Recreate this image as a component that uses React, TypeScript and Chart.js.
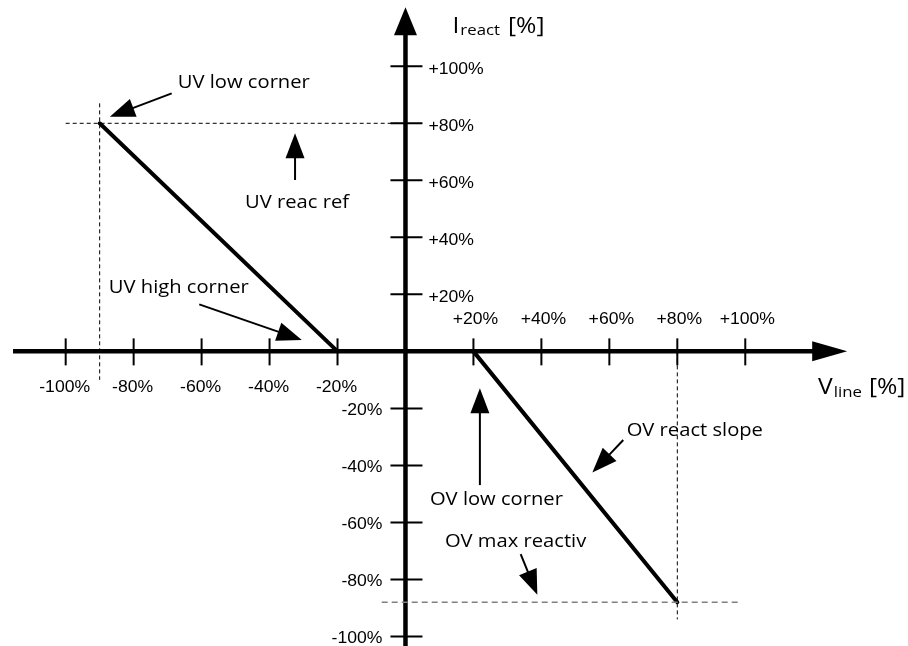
import React, { useEffect, useRef } from "react";
import { Chart, registerables } from "chart.js";

Chart.register(...registerables);

// ---- data ----
const X_TICKS = [-100, -80, -60, -40, -20, 20, 40, 60, 80, 100];
const X_TICK_LABELS = ["-100%", "-80%", "-60%", "-40%", "-20%", "+20%", "+40%", "+60%", "+80%", "+100%"];
const Y_TICKS = [100, 80, 60, 40, 20, -20, -40, -60, -80, -100];
const Y_TICK_LABELS = ["+100%", "+80%", "+60%", "+40%", "+20%", "-20%", "-40%", "-60%", "-80%", "-100%"];

const UV_CURVE_X = [-90, -20];
const UV_CURVE_Y = [80, 0];
const OV_CURVE_X = [20, 80];
const OV_CURVE_Y = [0, -88];

const UV_REF_GUIDE_X = [-100, 0];
const UV_REF_GUIDE_Y = [80, 80];
const UV_LOW_GUIDE_X = [-90, -90];
const UV_LOW_GUIDE_Y = [87, -10];
const OV_MAX_GUIDE_X = [-7, 98];
const OV_MAX_GUIDE_Y = [-88, -88];
const OV_CORNER_GUIDE_X = [80, 80];
const OV_CORNER_GUIDE_Y = [0, -94];

const NOTE_TEXTS = ["UV low corner", "UV reac ref", "UV high corner", "OV low corner", "OV react slope", "OV max reactiv"];
const NOTE_TEXT_X = [-67, -47.2, -87.3, 7.2, 65.1, 11.6];
const NOTE_TEXT_Y = [94.4, 52.4, 22.6, -51.8, -27.6, -66.4];
const ARROW_FROM_X = [-68.8, -32.5, -60.7, 21.9, 64.1, 33.9];
const ARROW_FROM_Y = [90.5, 60.1, 16.5, -46.9, -31.1, -71.1];
const ARROW_TO_X = [-87, -32.5, -30.5, 21.9, 55.0, 38.8];
const ARROW_TO_Y = [82.3, 76.5, 4.0, -12.9, -42.5, -85.4];

const X_AXIS_EXTENT = [-115.5, 130];
const Y_AXIS_EXTENT = [-104, 120.7];

const X_MIN = -119.33;
const X_MAX = 147.89;
const Y_MIN = -103.35;
const Y_MAX = 123.25;

const pts = (xs: number[], ys: number[]) => xs.map((x, i) => ({ x, y: ys[i] }));

function stretchText(ctx: CanvasRenderingContext2D, text: string, x: number, y: number, sx: number) {
  ctx.save();
  ctx.translate(x, y);
  ctx.scale(sx, 1);
  ctx.fillText(text, 0, 0);
  ctx.restore();
}

function drawArrow(ctx: CanvasRenderingContext2D, x1: number, y1: number, x2: number, y2: number, len: number, half: number, width: number) {
  const dx = x2 - x1;
  const dy = y2 - y1;
  const d = Math.hypot(dx, dy);
  const ux = dx / d;
  const uy = dy / d;
  const bx = x2 - ux * len;
  const by = y2 - uy * len;
  ctx.beginPath();
  ctx.lineWidth = width;
  ctx.moveTo(x1, y1);
  ctx.lineTo(bx + ux * 2, by + uy * 2);
  ctx.stroke();
  ctx.beginPath();
  ctx.moveTo(x2, y2);
  ctx.lineTo(bx - uy * half, by + ux * half);
  ctx.lineTo(bx + uy * half, by - ux * half);
  ctx.closePath();
  ctx.fill();
}

const diagramPlugin = {
  id: "diagram",
  beforeDatasetsDraw(chart: any) {
    const ctx: CanvasRenderingContext2D = chart.ctx;
    const xs = chart.scales.x;
    const ys = chart.scales.y;
    const x0 = xs.getPixelForValue(0);
    const y0 = ys.getPixelForValue(0);
    ctx.save();
    ctx.strokeStyle = "#000";
    ctx.fillStyle = "#000";
    ctx.setLineDash([]);
    // x axis
    const xa = xs.getPixelForValue(X_AXIS_EXTENT[0]);
    const xb = xs.getPixelForValue(X_AXIS_EXTENT[1]);
    drawArrow(ctx, xa, y0, xb, y0, 35, 10, 4.5);
    // y axis
    const ya = ys.getPixelForValue(Y_AXIS_EXTENT[0]);
    const yb = ys.getPixelForValue(Y_AXIS_EXTENT[1]);
    drawArrow(ctx, x0, ya, x0, yb, 28, 11.5, 4.5);
    // ticks
    ctx.lineWidth = 2;
    X_TICKS.forEach((v) => {
      const px = xs.getPixelForValue(v);
      ctx.beginPath();
      ctx.moveTo(px, y0 - 13);
      ctx.lineTo(px, y0 + 14);
      ctx.stroke();
    });
    Y_TICKS.forEach((v) => {
      const py = ys.getPixelForValue(v);
      ctx.beginPath();
      ctx.moveTo(x0 - 15, py);
      ctx.lineTo(x0 + 17, py);
      ctx.stroke();
    });
    // tick labels
    ctx.font = "16px 'Liberation Sans', Arial, sans-serif";
    ctx.textBaseline = "middle";
    ctx.textAlign = "center";
    X_TICKS.forEach((v, i) => {
      const px = xs.getPixelForValue(v);
      const py = v > 0 ? y0 - 32 : y0 + 36;
      stretchText(ctx, X_TICK_LABELS[i], px + (v > 0 ? 2 : -1), py, 1.1);
    });
    Y_TICKS.forEach((v, i) => {
      const py = ys.getPixelForValue(v);
      if (v > 0) {
        ctx.textAlign = "left";
        stretchText(ctx, Y_TICK_LABELS[i], x0 + 23, py + 3, 1.1);
      } else {
        ctx.textAlign = "right";
        stretchText(ctx, Y_TICK_LABELS[i], x0 - 23, py + 2, 1.1);
      }
    });
    ctx.restore();
  },
  afterDatasetsDraw(chart: any) {
    const ctx: CanvasRenderingContext2D = chart.ctx;
    const xs = chart.scales.x;
    const ys = chart.scales.y;
    const x0 = xs.getPixelForValue(0);
    const y0 = ys.getPixelForValue(0);
    ctx.save();
    ctx.strokeStyle = "#000";
    ctx.fillStyle = "#000";
    ctx.setLineDash([]);
    // annotation arrows
    NOTE_TEXTS.forEach((_, i) => {
      drawArrow(
        ctx,
        xs.getPixelForValue(ARROW_FROM_X[i]),
        ys.getPixelForValue(ARROW_FROM_Y[i]),
        xs.getPixelForValue(ARROW_TO_X[i]),
        ys.getPixelForValue(ARROW_TO_Y[i]),
        25,
        9.5,
        2
      );
    });
    // annotation texts
    ctx.font = "18px 'Open Sans', sans-serif";
    ctx.textAlign = "left";
    ctx.textBaseline = "middle";
    NOTE_TEXTS.forEach((t, i) => {
      stretchText(ctx, t, xs.getPixelForValue(NOTE_TEXT_X[i]), ys.getPixelForValue(NOTE_TEXT_Y[i]) + 1, 1.12);
    });
    // axis titles
    ctx.textBaseline = "alphabetic";
    const big = "22px 'Open Sans', sans-serif";
    const small = "15px 'Open Sans', sans-serif";
    // I_react [%]
    let tx = x0 + 47;
    const ty = 32.5;
    ctx.font = big;
    stretchText(ctx, "I", tx, ty, 1.12);
    tx += ctx.measureText("I").width * 1.12 + 1;
    ctx.font = small;
    stretchText(ctx, "react", tx, ty + 2, 1.12);
    tx += ctx.measureText("react").width * 1.12 + 8;
    ctx.font = big;
    stretchText(ctx, "[%]", tx, ty, 1.12);
    // V_line [%]
    let vx = x0 + 412.5;
    const vy = y0 + 43;
    ctx.font = big;
    stretchText(ctx, "V", vx, vy, 1.12);
    vx += ctx.measureText("V").width * 1.12 + 1;
    ctx.font = small;
    stretchText(ctx, "line", vx, vy + 3, 1.12);
    vx += ctx.measureText("line").width * 1.12 + 7;
    ctx.font = big;
    stretchText(ctx, "[%]", vx, vy, 1.12);
    ctx.restore();
  },
};

export default function App() {
  const ref = useRef<HTMLCanvasElement | null>(null);
  useEffect(() => {
    if (!ref.current) return;
    const guide = (xs: number[], ys: number[], color: string, dash: number[], w: number) => ({
      data: pts(xs, ys),
      showLine: true,
      borderColor: color,
      borderWidth: w,
      borderDash: dash,
      pointRadius: 0,
      fill: false,
    });
    const chart = new Chart(ref.current, {
      type: "scatter",
      data: {
        datasets: [
          guide(UV_REF_GUIDE_X, UV_REF_GUIDE_Y, "#000", [4, 3], 1),
          guide(UV_LOW_GUIDE_X, UV_LOW_GUIDE_Y, "#000", [4, 3], 1),
          guide(OV_MAX_GUIDE_X, OV_MAX_GUIDE_Y, "#808080", [6, 4], 1.5),
          guide(OV_CORNER_GUIDE_X, OV_CORNER_GUIDE_Y, "#000", [4, 3], 1),
          { ...guide(UV_CURVE_X, UV_CURVE_Y, "#000", [], 4), borderCapStyle: "round" },
          { ...guide(OV_CURVE_X, OV_CURVE_Y, "#000", [], 4), borderCapStyle: "round" },
        ] as any,
      },
      options: {
        animation: false,
        responsive: false,
        devicePixelRatio: 1,
        layout: { padding: 0 },
        plugins: { legend: { display: false }, tooltip: { enabled: false } },
        scales: {
          x: { type: "linear", min: X_MIN, max: X_MAX, display: false },
          y: { type: "linear", min: Y_MIN, max: Y_MAX, display: false },
        },
      },
      plugins: [diagramPlugin],
    });
    return () => chart.destroy();
  }, []);
  return (
    <div style={{ position: "fixed", left: 0, top: 0, width: 908, height: 646, background: "#fff" }}>
      <canvas ref={ref} width={908} height={646} style={{ display: "block" }} />
    </div>
  );
}
